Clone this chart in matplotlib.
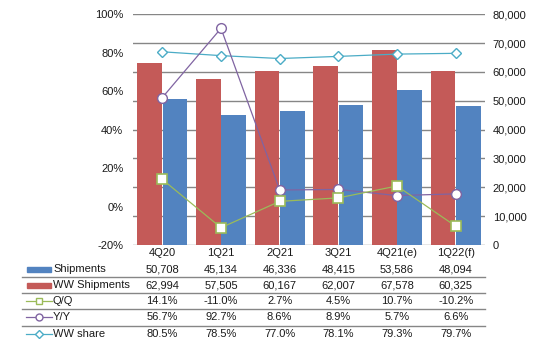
import matplotlib
matplotlib.use('Agg')
import matplotlib.pyplot as plt
import matplotlib.transforms as mtransforms
from matplotlib.lines import Line2D
from matplotlib.patches import Rectangle

plt.rcParams['font.family'] = ['Liberation Sans', 'DejaVu Sans']
plt.rcParams['font.size'] = 8

# data
quarters = ['4Q20', '1Q21', '2Q21', '3Q21', '4Q21(e)', '1Q22(f)']
shipments = [50708, 45134, 46336, 48415, 53586, 48094]
ww_shipments = [62994, 57505, 60167, 62007, 67578, 60325]
qoq = [14.1, -11.0, 2.7, 4.5, 10.7, -10.2]
yoy = [56.7, 92.7, 8.6, 8.9, 5.7, 6.6]
ww_share = [80.5, 78.5, 77.0, 78.1, 79.3, 79.7]

RED = '#C45A58'
BLUE = '#5283C0'
GREEN = '#9BBB59'
PURPLE = '#8064A2'
CYAN = '#4BACC6'
GRID = '#868686'
TXT = '#1a1a1a'

W, H = 539, 350
fig = plt.figure(figsize=(W / 100, H / 100), dpi=100)

# plot area in pixels
left, right, top, bottom = 133, 485, 14.3, 245
ax = fig.add_axes([left / W, 1 - bottom / H, (right - left) / W, (bottom - top) / H])

x = list(range(len(quarters)))
bw = 0.42
ax.bar([i - 0.215 for i in x], ww_shipments, width=bw, color=RED, zorder=2)
ax.bar([i + 0.215 for i in x], shipments, width=bw, color=BLUE, zorder=2)
ax.set_xlim(-0.5, len(quarters) - 0.5)
ax.set_ylim(0, 80000)
ax.set_yticks(range(0, 80001, 10000))
ax.set_yticklabels([f'{v:,}' for v in range(0, 80001, 10000)])
ax.grid(axis='y', color=GRID, linewidth=1, zorder=0)
ax.set_axisbelow(True)
for s in ax.spines.values():
    s.set_visible(False)
ax.set_xticks(x)
ax.set_xticklabels(quarters)
ax.tick_params(axis='x', length=0, pad=2, colors=TXT)

# percentage lines on the left axis
ax2 = ax.twinx()
ax.yaxis.tick_right()
ax.tick_params(axis='y', length=0, pad=5.5, colors=TXT)
ax2.yaxis.tick_left()
ax2.set_ylim(-20, 100)
ax2.set_yticks(range(-20, 101, 20))
ax2.set_yticklabels([f'{v}%' for v in range(-20, 101, 20)])
ax2.tick_params(axis='y', length=0, pad=7, colors=TXT)
for s in ax2.spines.values():
    s.set_visible(False)
ax2.plot(x, ww_share, color=CYAN, lw=0.9, marker='D', ms=5, mfc='white', mec=CYAN, mew=1)
ax2.plot(x, yoy, color=PURPLE, lw=0.9, marker='o', ms=7, mfc='white', mec=PURPLE, mew=1)
ax2.plot(x, qoq, color=GREEN, lw=0.9, marker='s', ms=7, mfc='white', mec=GREEN, mew=1.2)

# data table below the chart
tr = mtransforms.blended_transform_factory(ax.transData, fig.transFigure)
rows = [
    ('Shipments', [f'{v:,}' for v in shipments]),
    ('WW Shipments', [f'{v:,}' for v in ww_shipments]),
    ('Q/Q', [f'{v:.1f}%' for v in qoq]),
    ('Y/Y', [f'{v:.1f}%' for v in yoy]),
    ('WW share', [f'{v:.1f}%' for v in ww_share]),
]
row_y = [269.3, 285.3, 301.3, 317.3, 333.8]
for (name, vals), ypx in zip(rows, row_y):
    yf = 1 - ypx / H
    for i, v in zip(x, vals):
        ax.text(i, yf, v, transform=tr, ha='center', va='center', color=TXT)
    fig.text(53 / W, yf, name, ha='left', va='center', color=TXT)

for ypx in [277.4, 293.4, 309.4, 325.6]:
    fig.add_artist(Line2D([22 / W, right / W], [1 - ypx / H] * 2, color=GRID, lw=1))

# legend keys
key_h = 5
for ypx, c in zip(row_y[:2], [BLUE, RED]):
    fig.add_artist(Rectangle((27 / W, 1 - (ypx + key_h / 2) / H), 24 / W, key_h / H,
                             color=c, transform=fig.transFigure))
for ypx, c, m, ms in zip(row_y[2:], [GREEN, PURPLE, CYAN], ['s', 'o', 'D'], [5, 5, 4]):
    yf = 1 - ypx / H
    fig.add_artist(Line2D([26 / W, 52 / W], [yf, yf], color=c, lw=0.9))
    fig.add_artist(Line2D([39 / W], [yf], color=c, marker=m, ms=ms, mfc='white', mec=c, mew=1))

fig.savefig('out.png', dpi=100)
